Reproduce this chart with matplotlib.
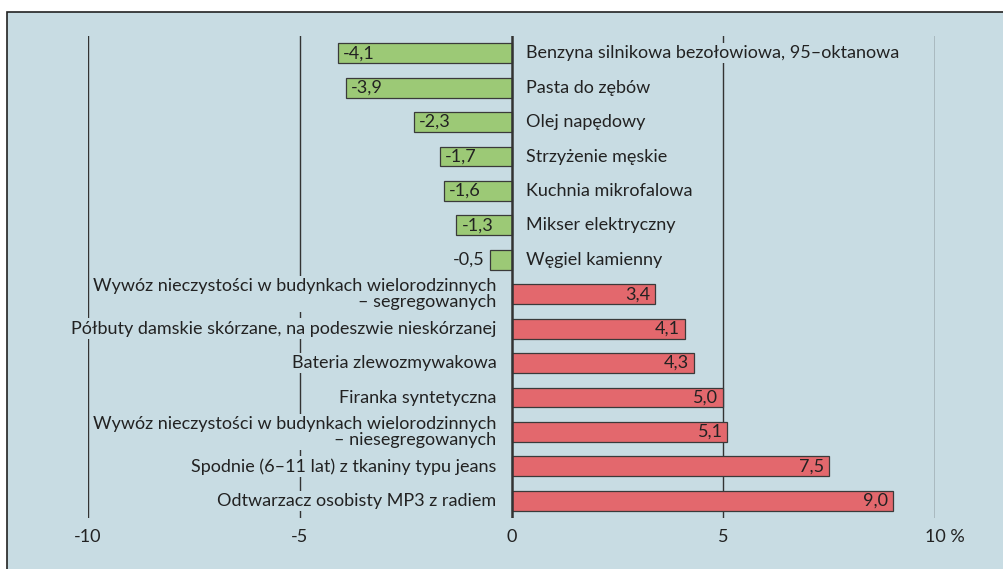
import matplotlib.pyplot as plt
import matplotlib.transforms as mtransforms
from matplotlib.patches import Rectangle

plt.rcParams['font.family'] = ['Lato', 'DejaVu Sans']

# dane (kolejnosc od gory)
categories = [
    'Benzyna silnikowa bezołowiowa, 95–oktanowa',
    'Pasta do zębów',
    'Olej napędowy',
    'Strzyżenie męskie',
    'Kuchnia mikrofalowa',
    'Mikser elektryczny',
    'Węgiel kamienny',
    'Wywóz nieczystości w budynkach wielorodzinnych\n– segregowanych',
    'Półbuty damskie skórzane, na podeszwie nieskórzanej',
    'Bateria zlewozmywakowa',
    'Firanka syntetyczna',
    'Wywóz nieczystości w budynkach wielorodzinnych\n– niesegregowanych',
    'Spodnie (6–11 lat) z tkaniny typu jeans',
    'Odtwarzacz osobisty MP3 z radiem',
]
values = [-4.1, -3.9, -2.3, -1.7, -1.6, -1.3, -0.5,
          3.4, 4.1, 4.3, 5.0, 5.1, 7.5, 9.0]
xticks = [-10, -5, 0, 5, 10]
xtick_labels = ['-10', '-5', '0', '5', '10 %']

bg = '#c8dce3'
green = '#9cc976'
red = '#e3686d'

fig = plt.figure(figsize=(10.04, 5.69), dpi=100)
fig.patch.set_facecolor('white')
# panel z ramka
fig.patches.append(Rectangle((7 / 1004, -0.1), 1.2, (569 - 12) / 569 + 0.1,
                             transform=fig.transFigure, facecolor=bg,
                             edgecolor='#222222', lw=1.2, zorder=-5))

ax = fig.add_axes([88 / 1004, 51 / 569, 847 / 1004, 482 / 569])
ax.set_zorder(2)
ax.set_facecolor('none')
ax.set_xlim(-10, 10)
ax.set_ylim(13.5, -0.5)
for s in ax.spines.values():
    s.set_visible(False)
ax.set_xticks([])
ax.set_yticks([])

for x in [-10, -5, 5, 10]:
    ax.axvline(x, color='#333333', lw=1.0, zorder=1)
ax.axvline(0, color='#333333', lw=1.8, zorder=4)

ys = range(len(values))
colors = [green if v < 0 else red for v in values]
ax.barh(ys, values, height=0.58, color=colors, edgecolor='#3a3a3a',
        lw=0.9, zorder=3)

fs = 13
box = dict(facecolor=bg, edgecolor='none', pad=1.5)
to_px = lambda dx: mtransforms.offset_copy(ax.transData, fig=fig, x=dx, y=0, units='dots')

for y, v, c in zip(ys, values, categories):
    lab = f'{v:.1f}'.replace('.', ',')
    if v < 0:
        ax.text(0, y, c, transform=to_px(15), ha='left', va='center',
                fontsize=fs, color='#222222', bbox=box, zorder=2)
        if v > -1:
            ax.text(v, y, lab, transform=to_px(-6), ha='right', va='center',
                    fontsize=fs, color='#222222', zorder=5)
        else:
            ax.text(v, y, lab, transform=to_px(5), ha='left', va='center',
                    fontsize=fs, color='#222222', zorder=5)
    else:
        ax.text(0, y, c, transform=to_px(-15), ha='right', va='center',
                fontsize=fs, color='#222222', bbox=box, linespacing=1.0,
                zorder=2)
        ax.text(v, y, lab, transform=to_px(-5), ha='right', va='center',
                fontsize=fs, color='#222222', zorder=5)

# etykiety osi x
tick_tr = mtransforms.blended_transform_factory(ax.transData, fig.transFigure)
for x, t in zip(xticks, xtick_labels):
    if t.endswith('%'):
        tr = mtransforms.offset_copy(tick_tr, fig=fig, x=-10, y=0, units='dots')
        ax.text(x, (569 - 537) / 569, t, transform=tr, ha='left', va='center',
                fontsize=fs, color='#222222')
    else:
        ax.text(x, (569 - 537) / 569, t, transform=tick_tr, ha='center',
                va='center', fontsize=fs, color='#222222')

fig.savefig('out.png', dpi=100)
